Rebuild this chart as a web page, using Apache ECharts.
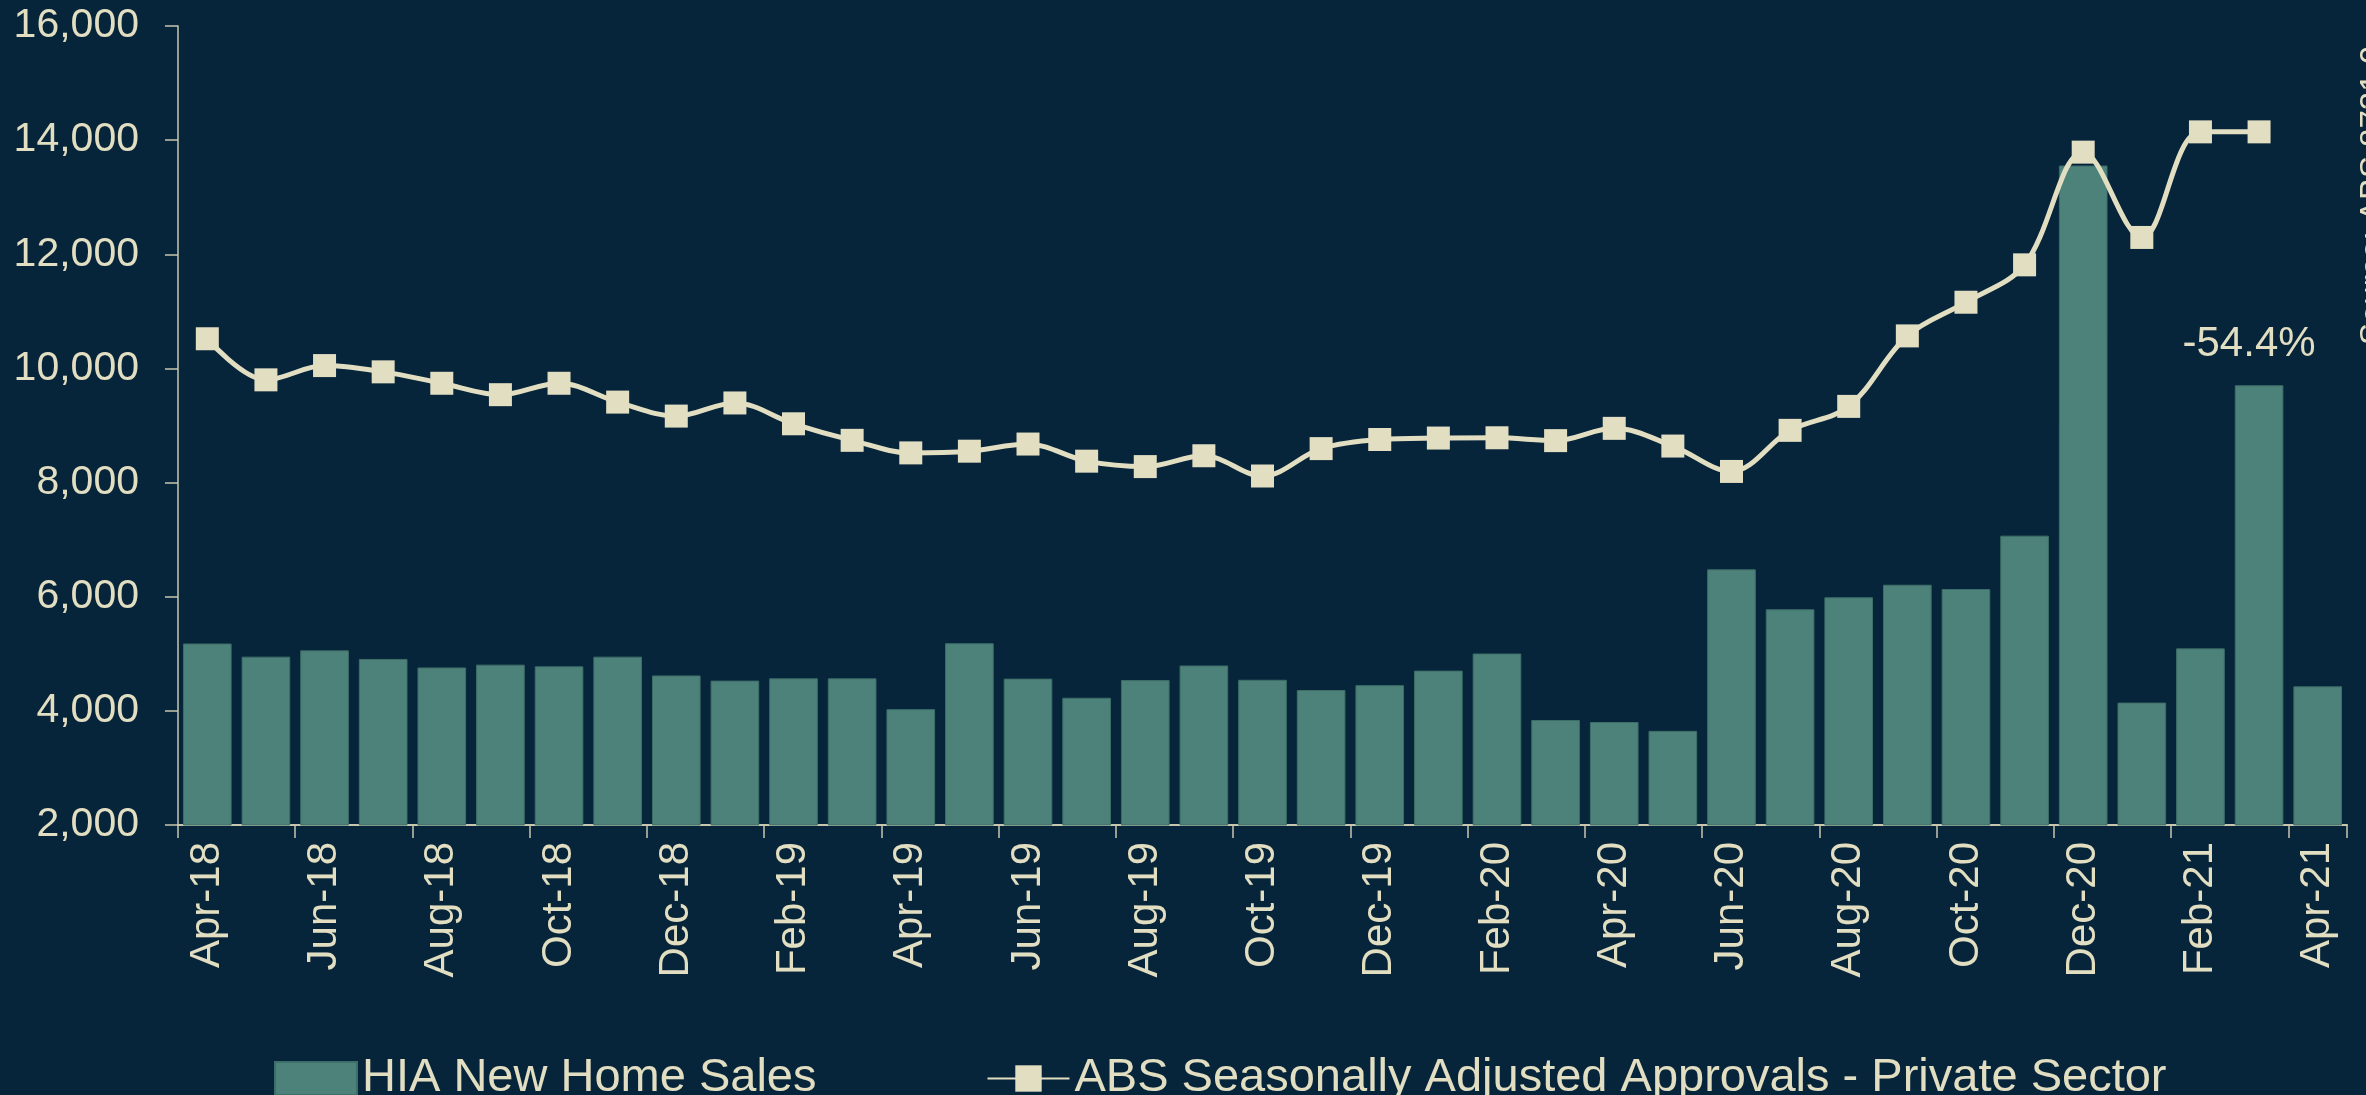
<!DOCTYPE html>
<html>
<head>
<meta charset="utf-8">
<script src="https://cdn.jsdelivr.net/npm/echarts@6/dist/echarts.min.js"></script>
<style>
  html, body { margin: 0; padding: 0; background: #06243a; }
  #chart { width: 2366px; height: 1095px; }
</style>
</head>
<body>
<div id="chart"></div>
<script>
const months = [
  'Apr-18', 'May-18', 'Jun-18', 'Jul-18', 'Aug-18', 'Sep-18', 'Oct-18', 'Nov-18', 'Dec-18',
  'Jan-19', 'Feb-19', 'Mar-19', 'Apr-19', 'May-19', 'Jun-19', 'Jul-19', 'Aug-19', 'Sep-19',
  'Oct-19', 'Nov-19', 'Dec-19', 'Jan-20', 'Feb-20', 'Mar-20', 'Apr-20', 'May-20', 'Jun-20',
  'Jul-20', 'Aug-20', 'Sep-20', 'Oct-20', 'Nov-20', 'Dec-20', 'Jan-21', 'Feb-21', 'Mar-21',
  'Apr-21'
];

// HIA new home sales (bars)
const hiaSales = [
  5180, 4950, 5060, 4910, 4760, 4810, 4780, 4950, 4620,
  4530, 4570, 4570, 4030, 5185, 4565, 4230, 4540, 4795,
  4545, 4365, 4450, 4705, 5005, 3840, 3805, 3650, 6480,
  5780, 5990, 6210, 6135, 7070, 13555, 4145, 5095, 9705,
  4430
];

// ABS seasonally adjusted approvals, private sector (line)
const absApprovals = [
  10520, 9800, 10050, 9940, 9740, 9540, 9740, 9410, 9165,
  9395, 9030, 8740, 8520, 8550, 8675, 8375, 8280, 8470,
  8115, 8595, 8755, 8780, 8785, 8735, 8950, 8640, 8195,
  8915, 9335, 10570, 11160, 11815, 13790, 12295, 14145, 14145,
  null
];

const yTicks = { min: 2000, max: 16000, interval: 2000 };
const changeLabel = { month: 'Mar-21', text: '-54.4%' };
const sourceNote = 'Source: ABS 8731.0';

const bg = '#06243a';
const cream = '#e2dec2';
const barColor = '#4c8279';
const axisColor = '#c8c6ae';
const font = 'Arial, "Liberation Sans", sans-serif';

const chart = echarts.init(document.getElementById('chart'));

// only the Mar-21 bar carries the change label
const barData = hiaSales.map((v, i) => {
  if (months[i] === changeLabel.month) {
    return {
      value: v,
      label: {
        show: true,
        position: 'top',
        distance: 20,
        offset: [-10, 0],
        formatter: changeLabel.text,
        color: cream,
        fontSize: 42,
        fontFamily: font
      }
    };
  }
  return v;
});

const option = {
  backgroundColor: bg,
  animation: false,
  grid: { left: 178, right: 19, top: 26, bottom: 270 },
  legend: {
    left: 269,
    top: 1050,
    itemWidth: 82,
    itemHeight: 33,
    itemGap: 170,
    textStyle: { color: cream, fontSize: 47, fontFamily: font },
    data: [
      { name: 'HIA New Home Sales', icon: 'rect' },
      { name: 'ABS Seasonally Adjusted Approvals - Private Sector' }
    ]
  },
  xAxis: {
    type: 'category',
    data: months,
    boundaryGap: true,
    axisLine: { lineStyle: { color: axisColor, width: 2 } },
    axisTick: { show: true, interval: 1, length: 13, lineStyle: { color: axisColor, width: 1.5 } },
    axisLabel: {
      interval: 1,
      rotate: 90,
      margin: 17,
      color: cream,
      fontSize: 42,
      fontFamily: font
    },
    splitLine: { show: false }
  },
  yAxis: {
    type: 'value',
    min: yTicks.min,
    max: yTicks.max,
    interval: yTicks.interval,
    axisLine: { show: true, lineStyle: { color: axisColor, width: 1.5 } },
    axisTick: { show: true, length: 13, lineStyle: { color: axisColor, width: 1.5 } },
    axisLabel: {
      margin: 39,
      color: cream,
      fontSize: 41,
      fontFamily: font,
      formatter: v => v.toLocaleString('en-US')
    },
    splitLine: { show: false }
  },
  graphic: [{
    type: 'text',
    x: 2357,
    y: 345,
    rotation: Math.PI / 2,
    style: {
      text: sourceNote,
      fill: cream,
      font: '33px ' + font,
      align: 'left',
      verticalAlign: 'top'
    }
  }],
  series: [
    {
      name: 'HIA New Home Sales',
      type: 'bar',
      data: barData,
      barCategoryGap: '17%',
      itemStyle: { color: barColor, borderColor: '#3e6e68', borderWidth: 1 }
    },
    {
      name: 'ABS Seasonally Adjusted Approvals - Private Sector',
      type: 'line',
      data: absApprovals,
      smooth: 0.35,
      symbol: 'rect',
      symbolSize: 23,
      lineStyle: { color: cream, width: 5 },
      itemStyle: { color: cream },
      z: 5
    }
  ]
};

chart.setOption(option);
</script>
</body>
</html>
